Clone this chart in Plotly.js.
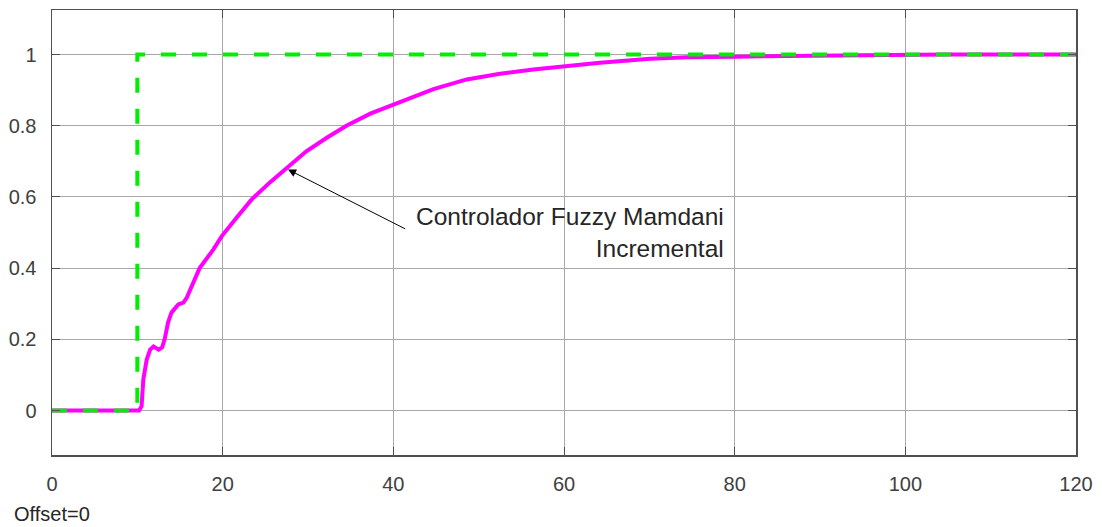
<!DOCTYPE html>
<html>
<head>
<meta charset="utf-8">
<script src="https://cdn.plot.ly/plotly-3.0.1.min.js"></script>
<style>html,body{margin:0;padding:0;background:#fff;}#chart{width:1102px;height:527px;}</style>
</head>
<body>
<div id="chart"></div>
<script>
// Reference (step) signal
var refTime = [0, 10, 10, 120];
var refValue = [0, 0, 1, 1];

// Controller response
var respTime = [0, 10.2, 10.5, 10.6, 10.7, 11.1, 11.5, 11.9, 12.5, 12.9, 13.2, 13.6, 14.0, 14.8, 15.4, 15.8, 16.4, 17.3, 18.9, 19.9, 21.6, 23.4, 25.5, 27.5, 29.8, 32.2, 34.5, 37.3, 40.0, 42.0, 44.7, 48.6, 52.5, 56.4, 59.9, 64.2, 70.1, 74.4, 80.0, 88.0, 95.0, 105.0, 120.0];
var respValue = [0, 0, 0.012, 0.05, 0.087, 0.143, 0.171, 0.18, 0.171, 0.177, 0.2, 0.247, 0.275, 0.298, 0.303, 0.317, 0.349, 0.40, 0.452, 0.49, 0.541, 0.593, 0.64, 0.682, 0.728, 0.766, 0.80, 0.834, 0.86, 0.878, 0.903, 0.93, 0.946, 0.958, 0.967, 0.977, 0.988, 0.992, 0.994, 0.997, 0.998, 1.0, 1.0];

var xTicks = [0, 20, 40, 60, 80, 100, 120];
var yTicks = [0, 0.2, 0.4, 0.6, 0.8, 1];
var yTickText = ['0', '0.2', '0.4', '0.6', '0.8', '1'];

var annotText = 'Controlador Fuzzy Mamdani<br>Incremental';
var offsetText = 'Offset=0';

var traces = [
  {x: respTime, y: respValue, type: 'scatter', mode: 'lines',
   line: {color: '#ff00ff', width: 4}, hoverinfo: 'skip'},
  {x: refTime, y: refValue, type: 'scatter', mode: 'lines',
   line: {color: '#00ee00', width: 4, dash: '15px,16px'}, hoverinfo: 'skip'}
];

var tickFont = {family: 'Liberation Sans, Arial, sans-serif', size: 20, color: '#404040'};

var layout = {
  width: 1102, height: 527,
  margin: {l: 52, r: 26, t: 10, b: 72},
  paper_bgcolor: '#ffffff', plot_bgcolor: '#ffffff',
  showlegend: false,
  xaxis: {
    range: [0, 120], tickvals: xTicks, ticktext: xTicks.map(String),
    showgrid: true, gridcolor: '#a8a8a8', gridwidth: 1,
    zeroline: false, showline: true, linecolor: '#505050', linewidth: 1.5,
    mirror: 'ticks', ticks: 'inside', ticklen: 8, tickcolor: '#505050',
    tickfont: tickFont, ticklabelstandoff: 10
  },
  yaxis: {
    range: [-0.125, 1.125], tickvals: yTicks, ticktext: yTickText,
    showgrid: true, gridcolor: '#a8a8a8', gridwidth: 1,
    zeroline: false, showline: true, linecolor: '#505050', linewidth: 1.5,
    mirror: 'ticks', ticks: 'inside', ticklen: 8, tickcolor: '#505050',
    tickfont: tickFont, ticklabelstandoff: 10
  },
  annotations: [
    {x: 27.66, y: 0.677, xref: 'x', yref: 'y', ax: 41.57, ay: 0.508, axref: 'x', ayref: 'y',
     showarrow: true, arrowhead: 2, arrowsize: 1.6, arrowwidth: 1, arrowcolor: '#000000', text: ''},
    {x: 79.0, y: 0.501, xref: 'x', yref: 'y', xanchor: 'right', yanchor: 'middle', align: 'right',
     showarrow: false, text: annotText,
     font: {family: 'Liberation Sans, Arial, sans-serif', size: 24.5, color: '#262626'}},
    {x: -0.039, y: -0.133, xref: 'paper', yref: 'paper', xanchor: 'left', yanchor: 'middle',
     showarrow: false, text: offsetText,
     font: {family: 'Liberation Sans, Arial, sans-serif', size: 20, color: '#262626'}}
  ]
};

Plotly.newPlot('chart', traces, layout, {staticPlot: true, displayModeBar: false});
</script>
</body>
</html>
